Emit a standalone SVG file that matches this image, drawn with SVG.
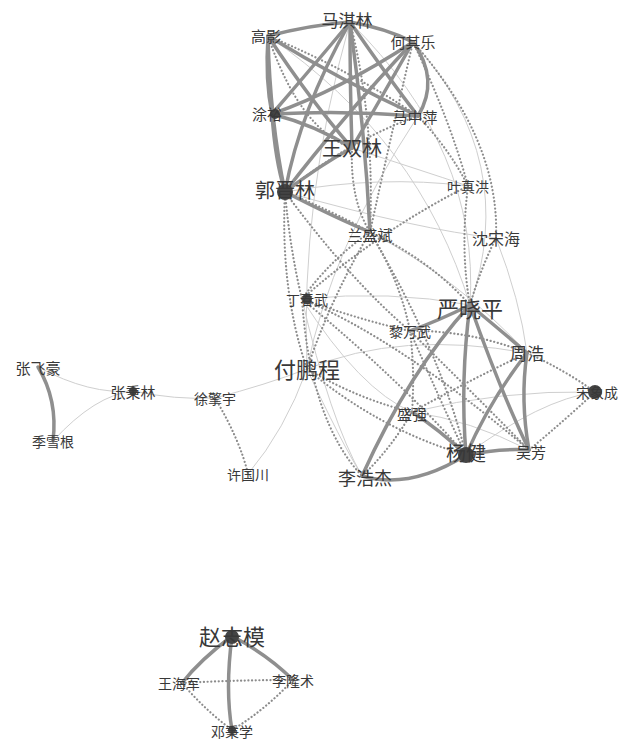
<svg xmlns="http://www.w3.org/2000/svg" width="619" height="740" viewBox="0 0 619 740">
<style>
.s{fill:none;stroke:#8f8f8f;stroke-width:3.5;stroke-linecap:round}
.d{fill:none;stroke:#8c8c8c;stroke-width:2.2;stroke-dasharray:0.1 3.6;stroke-linecap:round}
.l{fill:none;stroke:#cfcfcf;stroke-width:1}
text{font-family:"Noto Sans CJK SC","Noto Sans",sans-serif;fill:#383838;text-anchor:middle;dominant-baseline:central}
.dot{fill:#444}
</style>
<rect width="619" height="740" fill="#fff"/>
<g id="edges">
<path class="l" d="M38 367 Q90 395 133 391"/>
<path class="l" d="M53 441 Q95 395 133 391"/>
<path class="l" d="M133 391 Q175 400 215 398"/>
<path class="l" d="M215 398 Q265 385 307 369"/>
<path class="l" d="M248 474 Q285 430 307 369"/>
<path class="l" d="M350 22 Q480 150 470 305"/>
<path class="l" d="M413 42 Q520 160 470 305"/>
<path class="l" d="M268 36 Q420 140 470 305"/>
<path class="l" d="M352 148 Q420 170 468 186"/>
<path class="l" d="M285 192 Q380 175 468 186"/>
<path class="l" d="M285 192 Q420 230 496 238"/>
<path class="l" d="M302 299 Q390 290 470 305"/>
<path class="l" d="M302 299 Q360 390 412 412"/>
<path class="l" d="M307 369 Q340 440 362 476"/>
<path class="l" d="M370 232 Q460 280 527 353"/>
<path class="l" d="M496 238 Q520 300 527 353"/>
<path class="l" d="M412 412 Q470 420 529 450"/>
<path class="l" d="M412 412 Q500 390 595 392"/>
<path class="l" d="M466 455 Q540 400 595 392"/>
<path class="l" d="M307 369 Q400 330 527 353"/>
<path class="l" d="M418 116 Q330 250 307 369"/>
<path class="l" d="M350 22 Q300 200 307 369"/>
<path class="l" d="M362 476 Q330 420 302 299"/>
<path class="d" d="M268 36 Q350 70 418 116"/>
<path class="d" d="M268 36 Q300 130 352 148"/>
<path class="d" d="M350 22 Q375 120 370 232"/>
<path class="d" d="M413 42 Q390 140 370 232"/>
<path class="d" d="M413 42 Q450 120 468 186"/>
<path class="d" d="M413 42 Q500 140 496 238"/>
<path class="d" d="M418 116 Q350 140 285 192"/>
<path class="d" d="M418 116 Q450 150 468 186"/>
<path class="d" d="M352 148 Q350 200 370 232"/>
<path class="d" d="M285 192 Q290 250 302 299"/>
<path class="d" d="M285 192 Q350 280 410 331"/>
<path class="d" d="M285 192 Q280 290 307 369"/>
<path class="d" d="M285 192 Q330 210 370 232"/>
<path class="d" d="M370 232 Q330 260 302 299"/>
<path class="d" d="M370 232 Q430 260 470 305"/>
<path class="d" d="M370 232 Q330 300 307 369"/>
<path class="d" d="M370 232 Q400 280 410 331"/>
<path class="d" d="M370 232 Q440 350 466 455"/>
<path class="d" d="M468 186 Q460 250 470 305"/>
<path class="d" d="M468 186 Q380 230 302 299"/>
<path class="d" d="M496 238 Q480 270 470 305"/>
<path class="d" d="M302 299 Q360 320 410 331"/>
<path class="d" d="M302 299 Q310 420 362 476"/>
<path class="d" d="M302 299 Q400 380 466 455"/>
<path class="d" d="M302 299 Q400 340 529 450"/>
<path class="d" d="M307 369 Q360 400 412 412"/>
<path class="d" d="M307 369 Q380 430 466 455"/>
<path class="d" d="M410 331 Q470 390 529 450"/>
<path class="d" d="M410 331 Q470 330 527 353"/>
<path class="d" d="M410 331 Q415 370 412 412"/>
<path class="d" d="M410 331 Q440 400 466 455"/>
<path class="d" d="M412 412 Q470 380 527 353"/>
<path class="d" d="M412 412 Q390 450 362 476"/>
<path class="d" d="M527 353 Q565 370 595 392"/>
<path class="d" d="M529 450 Q565 420 595 392"/>
<path class="d" d="M215 398 Q240 440 248 474"/>
<path class="d" d="M182 683 Q235 680 293 680"/>
<path class="d" d="M182 683 Q205 710 232 730"/>
<path class="d" d="M293 680 Q265 710 232 730"/>
<path class="s" d="M268 36 Q310 25 350 22"/>
<path class="s" d="M350 22 Q385 28 413 42"/>
<path class="s" d="M413 42 Q440 80 418 116"/>
<path class="s" d="M268 36 Q265 80 272 114"/>
<path class="s" d="M268 36 Q270 120 285 192"/>
<path class="s" d="M268 36 Q310 100 352 148"/>
<path class="s" d="M268 36 Q340 80 418 116"/>
<path class="s" d="M350 22 Q310 70 272 114"/>
<path class="s" d="M350 22 Q390 80 418 116"/>
<path class="s" d="M350 22 Q350 90 352 148"/>
<path class="s" d="M350 22 Q300 110 285 192"/>
<path class="s" d="M350 22 Q365 130 370 232"/>
<path class="s" d="M413 42 Q340 90 272 114"/>
<path class="s" d="M413 42 Q340 120 285 192"/>
<path class="s" d="M413 42 Q380 100 352 148"/>
<path class="s" d="M272 114 Q345 110 418 116"/>
<path class="s" d="M272 114 Q275 160 285 192"/>
<path class="s" d="M272 114 Q315 125 352 148"/>
<path class="s" d="M285 192 Q320 165 352 148"/>
<path class="s" d="M285 192 Q340 220 370 232"/>
<path class="s" d="M470 305 Q440 320 410 331"/>
<path class="s" d="M470 305 Q500 330 527 353"/>
<path class="s" d="M470 305 Q460 380 466 455"/>
<path class="s" d="M470 305 Q500 390 529 450"/>
<path class="s" d="M470 305 Q410 370 362 476"/>
<path class="s" d="M527 353 Q490 400 466 455"/>
<path class="s" d="M527 353 Q520 400 529 450"/>
<path class="s" d="M412 412 Q440 430 466 455"/>
<path class="s" d="M466 455 Q500 448 529 450"/>
<path class="s" d="M466 455 Q410 490 362 476"/>
<path class="s" d="M38 367 Q58 400 53 441"/>
<path class="s" d="M232 636 Q200 660 182 683"/>
<path class="s" d="M232 636 Q268 655 293 680"/>
<path class="s" d="M232 636 Q225 690 232 730"/>
</g>
<g id="dots">
<circle class="dot" cx="285" cy="192" r="8"/>
<circle class="dot" cx="466" cy="455" r="8"/>
<circle class="dot" cx="595" cy="392" r="7"/>
<circle class="dot" cx="232" cy="637" r="7"/>
<circle class="dot" cx="275" cy="114" r="5"/>
<circle class="dot" cx="307" cy="299" r="5"/>
<circle class="dot" cx="133" cy="391" r="4"/>
<circle class="dot" cx="232" cy="730" r="4"/>
</g>
<g id="n1"><text x="347" y="19" font-size="17">马淇林</text></g>
<g id="n2"><text x="266" y="35" font-size="15">高影</text></g>
<g id="n3"><text x="413" y="41" font-size="15">何其乐</text></g>
<g id="n4"><text x="267" y="113" font-size="15">涂裕</text></g>
<g id="n5"><text x="415" y="116" font-size="15">马中萍</text></g>
<g id="n6"><text x="352" y="147" font-size="20">王双林</text></g>
<g id="n7"><text x="285" y="189" font-size="20">郭晋林</text></g>
<g id="n8"><text x="468" y="186" font-size="14">叶真洪</text></g>
<g id="n9"><text x="370" y="234" font-size="15">兰盛斌</text></g>
<g id="n10"><text x="496" y="238" font-size="16">沈宋海</text></g>
<g id="n11"><text x="307" y="299" font-size="14">丁春武</text></g>
<g id="n12"><text x="470" y="307" font-size="22">严晓平</text></g>
<g id="n13"><text x="410" y="331" font-size="14">黎万武</text></g>
<g id="n14"><text x="527" y="352" font-size="17">周浩</text></g>
<g id="n15"><text x="307" y="368" font-size="22">付鹏程</text></g>
<g id="n16"><text x="597" y="392" font-size="14">宋象成</text></g>
<g id="n17"><text x="38" y="367" font-size="15">张飞豪</text></g>
<g id="n18"><text x="133" y="391" font-size="15">张秉林</text></g>
<g id="n19"><text x="215" y="398" font-size="14">徐擎宇</text></g>
<g id="n20"><text x="53" y="441" font-size="14">季雪根</text></g>
<g id="n21"><text x="248" y="474" font-size="14">许国川</text></g>
<g id="n22"><text x="412" y="413" font-size="15">盛强</text></g>
<g id="n23"><text x="466" y="452" font-size="20">杨健</text></g>
<g id="n24"><text x="531" y="451" font-size="15">吴芳</text></g>
<g id="n25"><text x="365" y="477" font-size="18">李浩杰</text></g>
<g id="n26"><text x="232" y="635" font-size="22">赵志模</text></g>
<g id="n27"><text x="179" y="683" font-size="14">王海军</text></g>
<g id="n28"><text x="293" y="680" font-size="14">李隆术</text></g>
<g id="n29"><text x="232" y="731" font-size="14">邓秉学</text></g>
</svg>
